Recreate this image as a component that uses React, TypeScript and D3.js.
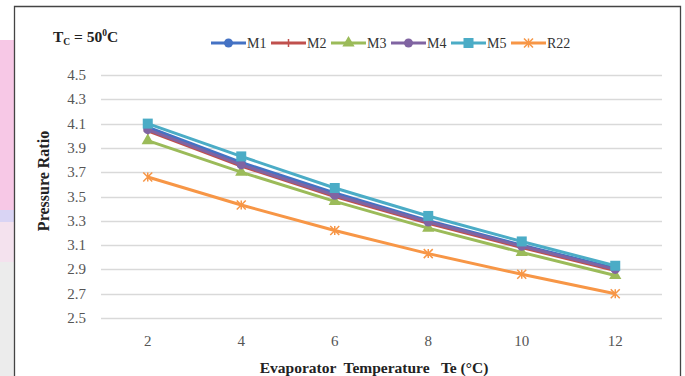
import React, { useEffect, useRef } from 'react';
import * as d3 from 'd3';

const temps = [2, 4, 6, 8, 10, 12];
const yTicks = [2.5, 2.7, 2.9, 3.1, 3.3, 3.5, 3.7, 3.9, 4.1, 4.3, 4.5];
const seriesNames = ['M1', 'M2', 'M3', 'M4', 'M5', 'R22'];
const m1 = [4.07, 3.78, 3.53, 3.3, 3.1, 2.91];
const m2 = [4.04, 3.75, 3.5, 3.28, 3.08, 2.89];
const m3 = [3.96, 3.7, 3.46, 3.24, 3.04, 2.85];
const m4 = [4.05, 3.76, 3.51, 3.29, 3.09, 2.9];
const m5 = [4.1, 3.83, 3.57, 3.34, 3.13, 2.93];
const r22 = [3.66, 3.43, 3.22, 3.03, 2.86, 2.7];
const seriesValues = [m1, m2, m3, m4, m5, r22];
const colors = ['#4472c4', '#c0504d', '#9bbb59', '#8064a2', '#4bacc6', '#f79646'];
const markers = ['circle', 'dash', 'triangle', 'circle', 'square', 'star'];

export default function App() {
  const ref = useRef<SVGSVGElement>(null);

  useEffect(() => {
    if (!ref.current) return;
    const svg = d3.select(ref.current);
    svg.selectAll('*').remove();

    const W = 685, H = 376;
    const left = 101, right = 662, top = 75, bottom = 318;
    const font = '"Liberation Serif", "Times New Roman", serif';

    svg.append('rect').attr('width', W).attr('height', H).attr('fill', '#fff');
    // slide background peeking at the left edge
    svg.append('rect').attr('x', 0).attr('y', 40).attr('width', 14).attr('height', 170).attr('fill', '#f7c8e6');
    svg.append('rect').attr('x', 0).attr('y', 210).attr('width', 14).attr('height', 12).attr('fill', '#d9d4f4');
    svg.append('rect').attr('x', 0).attr('y', 222).attr('width', 14).attr('height', 40).attr('fill', '#f4e2ee');
    svg.append('rect').attr('x', 0).attr('y', 262).attr('width', 14).attr('height', 114).attr('fill', '#ececec');

    // chart frame
    svg.append('path').attr('d', `M14.5,${H} V6.5 H680.5 V${H}`)
      .attr('fill', 'none').attr('stroke', '#444').attr('stroke-width', 1.3);

    const x = d3.scaleBand<number>().domain(temps).range([left, right]);
    const y = d3.scaleLinear().domain([2.5, 4.5]).range([bottom, top]);
    const cx = (t: number) => (x(t) as number) + x.bandwidth() / 2;

    // gridlines
    svg.append('g').selectAll('line').data(yTicks).enter().append('line')
      .attr('x1', left).attr('x2', right)
      .attr('y1', d => Math.round(y(d)) + 0.5).attr('y2', d => Math.round(y(d)) + 0.5)
      .attr('stroke', '#d9d9d9').attr('stroke-width', 1.3);

    // y tick labels
    svg.append('g').selectAll('text').data(yTicks).enter().append('text')
      .attr('x', 86).attr('y', d => y(d) + 5)
      .attr('text-anchor', 'end').attr('font-family', font).attr('font-size', 15)
      .attr('fill', '#555').text(d => d.toFixed(1));

    // x tick labels
    svg.append('g').selectAll('text').data(temps).enter().append('text')
      .attr('x', d => cx(d)).attr('y', 346)
      .attr('text-anchor', 'middle').attr('font-family', font).attr('font-size', 15)
      .attr('fill', '#555').text(d => String(d));

    // axis titles
    svg.append('text').attr('transform', 'translate(49,181) rotate(-90)')
      .attr('text-anchor', 'middle').attr('font-family', font).attr('font-size', 16)
      .attr('font-weight', 'bold').attr('fill', '#222').text('Pressure Ratio');
    svg.append('text').attr('x', 374).attr('y', 373)
      .attr('text-anchor', 'middle').attr('font-family', font).attr('font-size', 15.5)
      .attr('font-weight', 'bold').attr('fill', '#222').attr('xml:space', 'preserve')
      .text('Evaporator  Temperature   Te (°C)');

    // title
    const title = svg.append('text').attr('x', 53).attr('y', 42)
      .attr('font-family', font).attr('font-size', 15.5).attr('font-weight', 'bold').attr('fill', '#222');
    title.append('tspan').text('T');
    title.append('tspan').attr('font-size', 9.5).attr('dy', 3).text('C');
    title.append('tspan').attr('dy', -3).text(' = 50');
    title.append('tspan').attr('font-size', 9.5).attr('dy', -6).text('0');
    title.append('tspan').attr('dy', 6).text('C');

    const drawMarker = (g: any, kind: string, px: number, py: number, color: string) => {
      if (kind === 'circle') {
        g.append('circle').attr('cx', px).attr('cy', py).attr('r', 4.5).attr('fill', color);
      } else if (kind === 'square') {
        g.append('rect').attr('x', px - 5).attr('y', py - 5).attr('width', 10).attr('height', 10).attr('fill', color);
      } else if (kind === 'triangle') {
        g.append('path').attr('d', d3.symbol().type(d3.symbolTriangle).size(65)()!)
          .attr('transform', `translate(${px},${py})`).attr('fill', color);
      } else if (kind === 'dash') {
        g.append('path').attr('d', `M${px - 4},${py} H${px + 4} M${px},${py - 4} V${py + 4}`)
          .attr('stroke', color).attr('stroke-width', 1.5);
      } else if (kind === 'star') {
        g.append('path').attr('d', `M${px - 4.5},${py - 4.5} L${px + 4.5},${py + 4.5} M${px - 4.5},${py + 4.5} L${px + 4.5},${py - 4.5} M${px},${py - 4.5} V${py + 4.5}`)
          .attr('stroke', color).attr('stroke-width', 1.5);
      }
    };

    const line = d3.line<number>().x((_, i) => cx(temps[i])).y(d => y(d));
    seriesValues.forEach((vals, si) => {
      const g = svg.append('g');
      g.append('path').attr('d', line(vals)!).attr('fill', 'none')
        .attr('stroke', colors[si]).attr('stroke-width', 3).attr('stroke-linejoin', 'round');
      vals.forEach((v, i) => drawMarker(g, markers[si], cx(temps[i]), y(v), colors[si]));
    });

    // legend
    const legend = d3.scalePoint<string>().domain(seriesNames).range([211, 511]);
    seriesNames.forEach((name, i) => {
      const g = svg.append('g');
      const lx = legend(name) as number;
      g.append('line').attr('x1', lx).attr('x2', lx + 35).attr('y1', 43).attr('y2', 43)
        .attr('stroke', colors[i]).attr('stroke-width', 3);
      drawMarker(g, markers[i], lx + 17.5, 43, colors[i]);
      g.append('text').attr('x', lx + 36).attr('y', 48).attr('font-family', font)
        .attr('font-size', 14).attr('fill', '#333').text(name);
    });
  }, []);

  return (
    <svg ref={ref} width={685} height={376}
      style={{ position: 'absolute', left: 0, top: 0, display: 'block' }} />
  );
}
